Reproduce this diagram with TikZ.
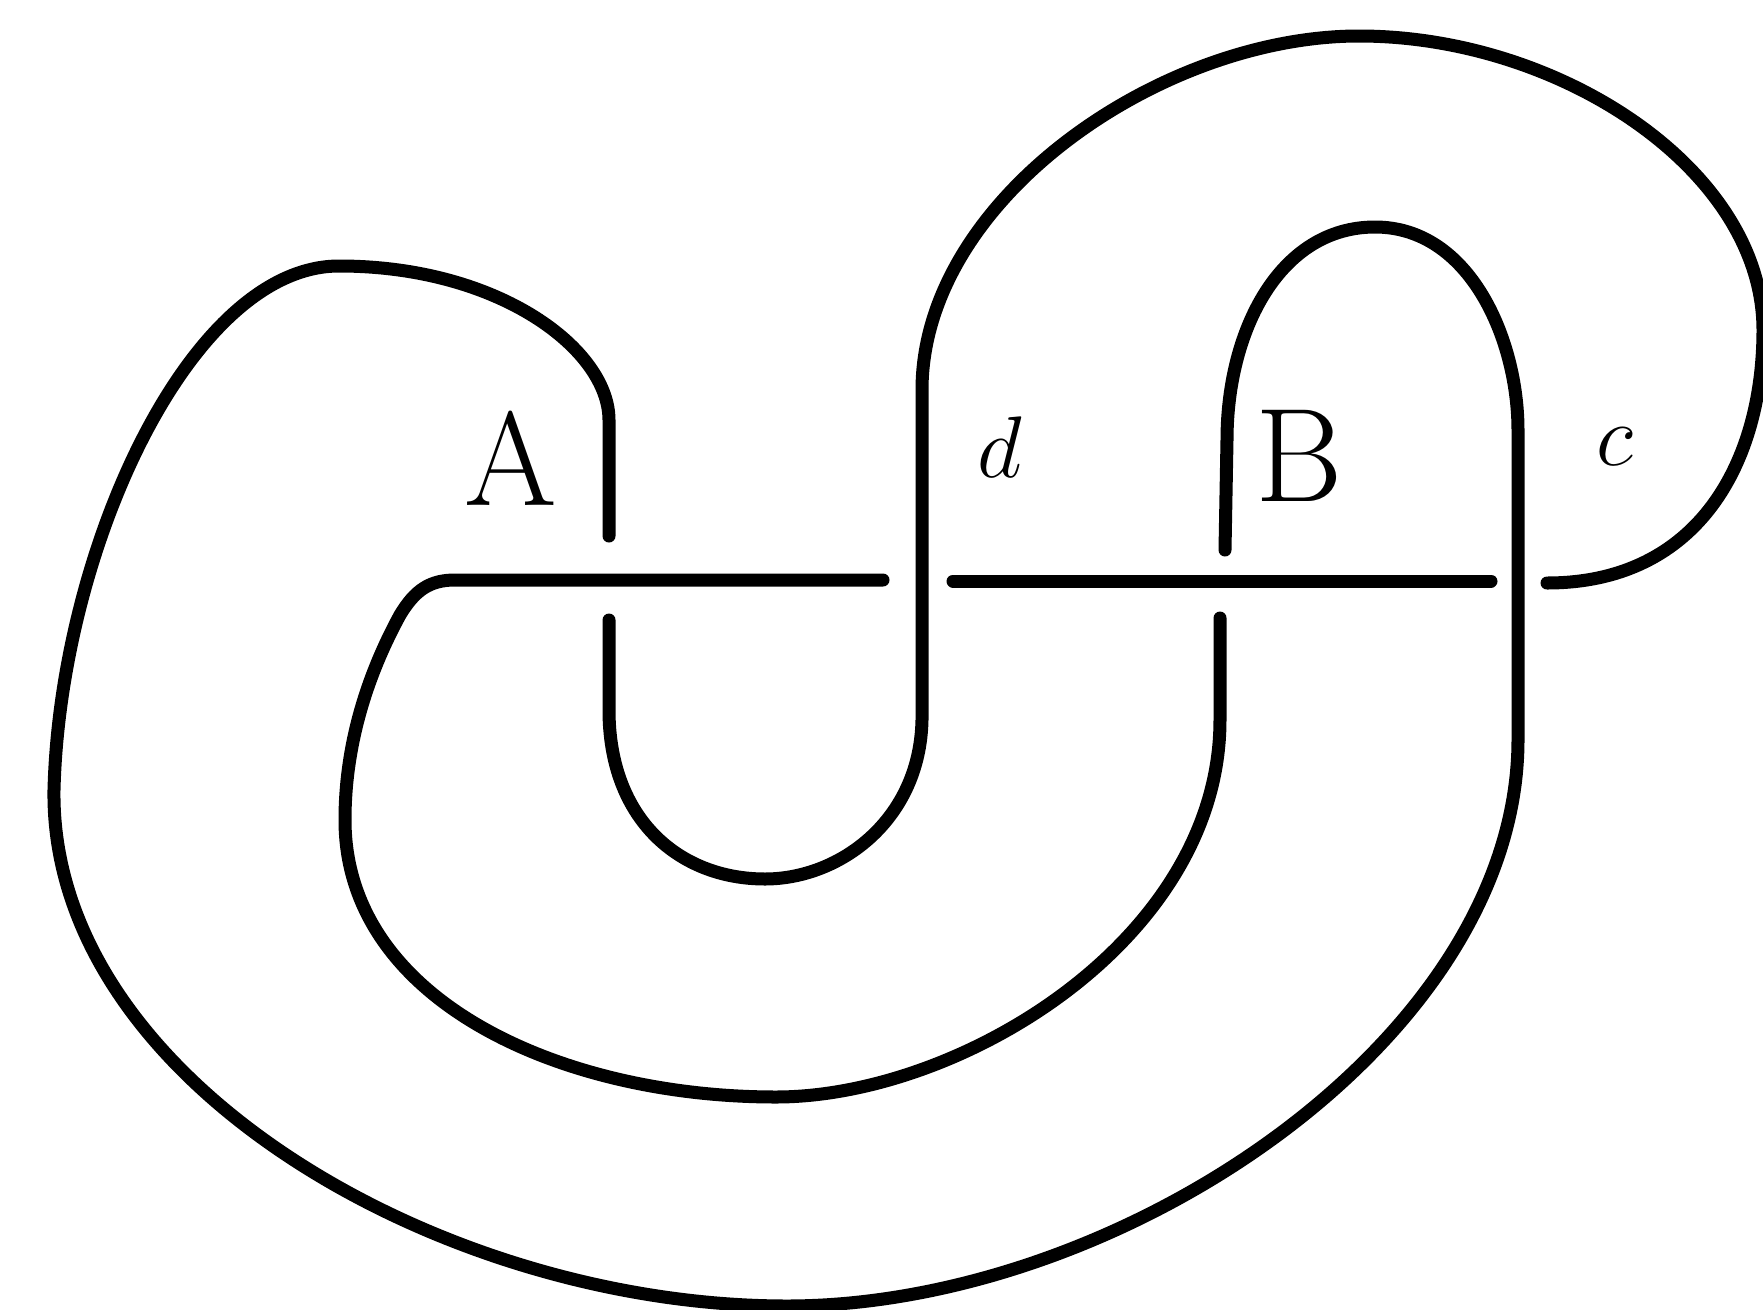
\documentclass[tikz,border=0pt]{standalone}
\usepackage{amsmath}
\usepackage{tikz}
\usetikzlibrary{positioning}

\begin{document}
\begin{tikzpicture}[strand/.style={line width=3.7pt,line cap=round,line join=round},
    lbl/.style={font=\fontsize{38}{40}\selectfont}]
    \useasboundingbox (0,0) rectangle (17.63,-13.10);
    % arc from A over the outer loop into B
    \draw[strand] (6.09,-5.36) -- (6.09,-4.2) .. controls (6.09,-3.5) and (5.0,-2.66) .. (3.39,-2.66)
        .. controls (1.9,-2.66) and (0.6,-5.5) .. (0.54,-7.9)
        .. controls (0.5,-10.8) and (4.4,-13.06) .. (7.87,-13.06)
        .. controls (11.2,-13.06) and (15.18,-10.4) .. (15.18,-7.4)
        -- (15.18,-4.3) .. controls (15.18,-3.4) and (14.7,-2.27) .. (13.75,-2.27)
        .. controls (12.8,-2.27) and (12.27,-3.3) .. (12.27,-4.4) -- (12.25,-5.5);
    % inner loop
    \draw[strand] (12.2,-6.18) -- (12.2,-7.2) .. controls (12.2,-9.4) and (9.6,-10.97) .. (7.76,-10.97)
        .. controls (5.6,-10.97) and (3.45,-10.0) .. (3.45,-8.2)
        .. controls (3.45,-7.4) and (3.7,-6.7) .. (4.0,-6.15)
        .. controls (4.15,-5.9) and (4.3,-5.80) .. (4.55,-5.80) -- (8.83,-5.80);
    \draw[strand] (9.53,-5.81) -- (14.91,-5.81);
    % c loop, top arc and the U
    \draw[strand] (15.47,-5.83) .. controls (17.0,-5.83) and (17.63,-4.6) .. (17.63,-3.3)
        .. controls (17.63,-1.7) and (15.6,-0.36) .. (13.59,-0.36)
        .. controls (11.6,-0.36) and (9.22,-2.0) .. (9.22,-3.9)
        -- (9.22,-7.2) .. controls (9.2,-8.2) and (8.4,-8.79) .. (7.65,-8.79)
        .. controls (6.8,-8.79) and (6.09,-8.2) .. (6.09,-7.1) -- (6.09,-6.2);
    \node[lbl] (lA) at (5.11,-4.58) {A};
    \node[lbl] (ld) at (10.0,-4.47) {$d$};
    \node[lbl] (lB) at (12.99,-4.56) {B};
    \node[lbl] (lc) at (16.15,-4.47) {$c$};
\end{tikzpicture}
\end{document}
